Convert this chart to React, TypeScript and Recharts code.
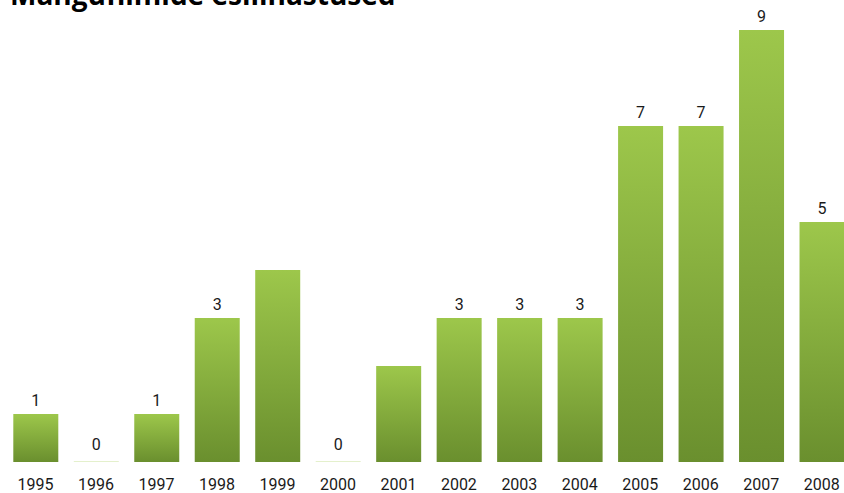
import React from "react";
import { BarChart, Bar, XAxis, YAxis, LabelList, Cell } from "recharts";

const years = ["1995","1996","1997","1998","1999","2000","2001","2002","2003","2004","2005","2006","2007","2008"];
const counts = [1, 0, 1, 3, 4, 0, 2, 3, 3, 3, 7, 7, 9, 5];
const shownLabels = [true, true, true, true, false, true, false, true, true, true, true, true, true, true];
const titleText = "Mängufilmide esilinastused";

const data = years.map((y, i) => ({ year: y, value: counts[i], show: shownLabels[i] }));

const FONT = "Roboto, 'DejaVu Sans', sans-serif";

const Tick = (props: any) => {
  const { x, payload } = props;
  return (
    <text x={x} y={490} textAnchor="middle" fontFamily={FONT} fontSize={16} fill="#1a1a1a">
      {payload.value}
    </text>
  );
};

const ValueLabel = (props: any) => {
  const { x, y, width, index } = props;
  const d = data[index];
  if (!d || !d.show) return null;
  const base = d.value === 0 ? y - 11 : y - 8;
  return (
    <text x={x + width / 2} y={base} textAnchor="middle" fontFamily={FONT} fontSize={16} fill="#1a1a1a">
      {d.value}
    </text>
  );
};

export default function App() {
  return (
    <div style={{ position: "relative", width: 844, height: 493, overflow: "hidden" }}>
      <style>{`body{margin:0;overflow:hidden;}`}</style>
      <div
        style={{
          position: "absolute",
          left: 10,
          top: -24,
          fontFamily: "'Open Sans', sans-serif",
          fontWeight: 700,
          fontSize: 28,
          lineHeight: "36px",
          color: "#000",
          whiteSpace: "nowrap",
        }}
      >
        {titleText}
      </div>
      <BarChart
        width={852}
        height={493}
        data={data}
        margin={{ top: 30, right: 0, bottom: 0, left: 5.3 }}
        barSize={45}
      >
        <defs>
          <linearGradient id="barGrad" x1="0" y1="0" x2="0" y2="1">
            <stop offset="0%" stopColor="#9dc74b" />
            <stop offset="100%" stopColor="#6a8f2e" />
          </linearGradient>
        </defs>
        <XAxis
          dataKey="year"
          axisLine={false}
          tickLine={false}
          height={31}
          tickSize={0}
          tickMargin={0}
          interval={0}
          tick={(p: any) => <Tick {...p} />}
        />
        <YAxis hide domain={[0, 9]} />
        <Bar dataKey="value" isAnimationActive={false} minPointSize={1}>
          {data.map((d, i) => (
            <Cell key={i} fill={d.value === 0 ? "#e4f0cc" : "url(#barGrad)"} />
          ))}
          <LabelList dataKey="value" content={ValueLabel} />
        </Bar>
      </BarChart>
    </div>
  );
}
